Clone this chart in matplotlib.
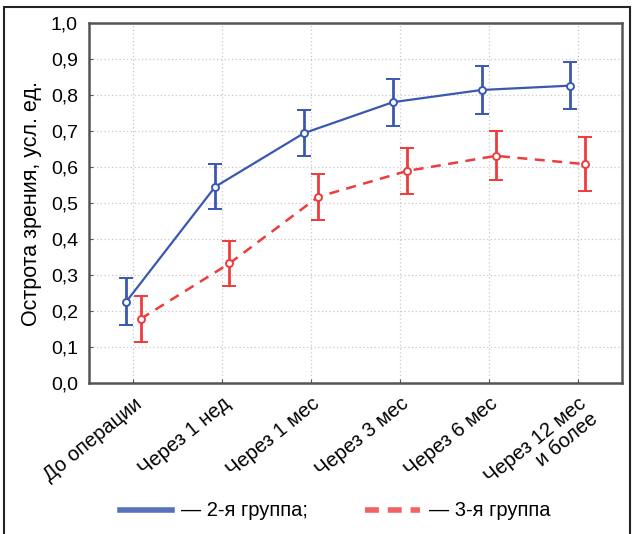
import matplotlib
matplotlib.use("Agg")
import matplotlib.pyplot as plt
from matplotlib.lines import Line2D
from matplotlib.patches import Rectangle
import numpy as np

plt.rcParams['font.family'] = ['Liberation Sans', 'DejaVu Sans']

categories = ["До операции", "Через 1 нед", "Через 1 мес", "Через 3 мес",
              "Через 6 мес", "Через 12 мес\nи более"]
group2_mean = [0.226, 0.545, 0.694, 0.780, 0.814, 0.826]
group2_err = [0.065, 0.063, 0.064, 0.065, 0.066, 0.065]
group3_mean = [0.178, 0.332, 0.517, 0.589, 0.631, 0.608]
group3_err = [0.064, 0.063, 0.063, 0.065, 0.068, 0.075]
y_ticks = [0.0, 0.1, 0.2, 0.3, 0.4, 0.5, 0.6, 0.7, 0.8, 0.9, 1.0]
y_labels = ["0,0", "0,1", "0,2", "0,3", "0,4", "0,5", "0,6", "0,7", "0,8", "0,9", "1,0"]
legend_labels = ["— 2-я группа;", "— 3-я группа"]

W, H = 633, 534
fig = plt.figure(figsize=(W / 100, H / 100), dpi=100)
ax = fig.add_axes([89 / W, 1 - 383 / H, (622 - 89) / W, (383 - 23) / H])

blue = "#3a58b0"
red = "#ee3b3b"
x = np.arange(len(categories))
off = 0.08

ax.errorbar(x - off, group2_mean, yerr=group2_err, color=blue, lw=1.6,
            elinewidth=2.0, capsize=5, capthick=2.0, marker='o', ms=5,
            mfc='white', mec=blue, mew=1.4, zorder=3)
ax.errorbar(x + off, group3_mean, yerr=group3_err, color=red, lw=1.8,
            ls=(0, (4, 3)), elinewidth=2.0, capsize=5, capthick=2.0,
            marker='o', ms=5, mfc='white', mec=red, mew=1.4, zorder=3)

ax.set_xlim(-0.5, len(categories) - 0.5)
ax.set_ylim(0, 1.0)
ax.set_yticks(y_ticks)
ax.set_yticklabels(y_labels, fontsize=14)
ax.set_xticks(x)
ax.set_xticklabels(categories, fontsize=14.5, rotation=39, ha='right',
                   va='top', rotation_mode='anchor', multialignment='right',
                   linespacing=1.0)
ax.tick_params(direction='in', length=3, color='#555555', pad=8)
ax.tick_params(axis='x', pad=8)
ax.grid(True, color='#c8c8c8', ls=(0, (1, 2)), lw=0.9)
for s in ax.spines.values():
    s.set_color('#555555')
    s.set_linewidth(1.8)
ax.set_ylabel("Острота зрения, усл. ед.", fontsize=15.5, labelpad=6)

# legend
fig.add_artist(Line2D([120 / W, 172 / W], [1 - 510 / H, 1 - 510 / H],
                      color=blue, lw=4, alpha=0.85))
fig.add_artist(Line2D([365 / W, 420 / W], [1 - 510 / H, 1 - 510 / H],
                      color=red, lw=4, ls=(0, (2.5, 1.6)), alpha=0.8))
fig.text(181 / W, 1 - 510 / H, legend_labels[0], fontsize=14.5, va='center')
fig.text(429 / W, 1 - 510 / H, legend_labels[1], fontsize=14.5, va='center')

# outer frame
fig.add_artist(Rectangle((4 / W, -0.05), (630 - 4) / W, 1 - 7 / H + 0.05,
                         transform=fig.transFigure, fill=False,
                         edgecolor='#222222', lw=1.5))

fig.savefig("out.png", dpi=100)
